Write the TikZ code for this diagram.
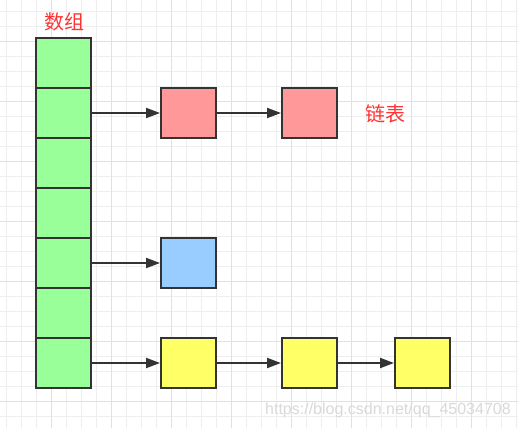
\documentclass[tikz,border=0pt]{standalone}
\usepackage{fontspec}
\newfontfamily\cjk{Noto Sans CJK SC}
\newfontfamily\wmfont{Liberation Sans}
\usetikzlibrary{arrows.meta}
\definecolor{gridminor}{HTML}{EEEEEE}
\definecolor{gridmajor}{HTML}{E1E1E1}
\definecolor{edgegray}{HTML}{333333}
\definecolor{cellgreen}{HTML}{99FF99}
\definecolor{nodered}{HTML}{FF9999}
\definecolor{nodeblue}{HTML}{99CCFF}
\definecolor{nodeyellow}{HTML}{FFFF66}
\definecolor{labelred}{HTML}{FF3333}
\definecolor{markgray}{HTML}{D9D9D9}
\tikzset{
  box/.style={draw=edgegray, line width=2pt, minimum width=55pt, minimum height=50pt, inner sep=0pt},
  link/.style={draw=edgegray, line width=2pt, -{Triangle[length=14pt,width=10pt]}},
  redlabel/.style={text=labelred, inner sep=0pt, font=\cjk\fontsize{20pt}{20pt}\selectfont}
}
\begin{document}
\begin{tikzpicture}[x=1pt,y=-1pt]
\useasboundingbox (0,0) rectangle (518,428);
\fill[white] (0,0) rectangle (518,428);
\foreach \x in {6.5,21.5,...,516.5} \draw[gridminor,line width=1pt] (\x,0) -- (\x,428);
\foreach \y in {11.3,26.3,...,426.3} \draw[gridminor,line width=1pt] (0,\y) -- (518,\y);
\foreach \x in {51.5,111.5,...,471.5} \draw[gridmajor,line width=1pt] (\x,0) -- (\x,428);
\foreach \y in {41.3,101.3,...,401.3} \draw[gridmajor,line width=1pt] (0,\y) -- (518,\y);
\foreach \i in {1,...,7} \node[box,fill=cellgreen] (arr\i) at (63.5,13+50*\i) {};
\node[redlabel] (arrtitle) at (64,22) {数组};
\node[box,fill=nodered] (red1) at (188.5,113) {};
\node[box,fill=nodered] (red2) at (309.5,113) {};
\node[redlabel] (listtitle) at (385,114) {链表};
\node[box,fill=nodeblue] (blue1) at (188.5,263) {};
\node[box,fill=nodeyellow] (ylw1) at (188.5,363) {};
\node[box,fill=nodeyellow] (ylw2) at (309.5,363) {};
\node[box,fill=nodeyellow] (ylw3) at (422.5,363) {};
\draw[link] (arr2) -- (red1);
\draw[link] (red1) -- (red2);
\draw[link] (arr5) -- (blue1);
\draw[link] (arr7) -- (ylw1);
\draw[link] (ylw1) -- (ylw2);
\draw[link] (ylw2) -- (ylw3);
\node[anchor=base west, inner sep=0pt, text=markgray, font=\wmfont\fontsize{16pt}{16pt}\selectfont] (mark) at (265,414.5) {https://blog.csdn.net/qq\_45034708};
\end{tikzpicture}
\end{document}
